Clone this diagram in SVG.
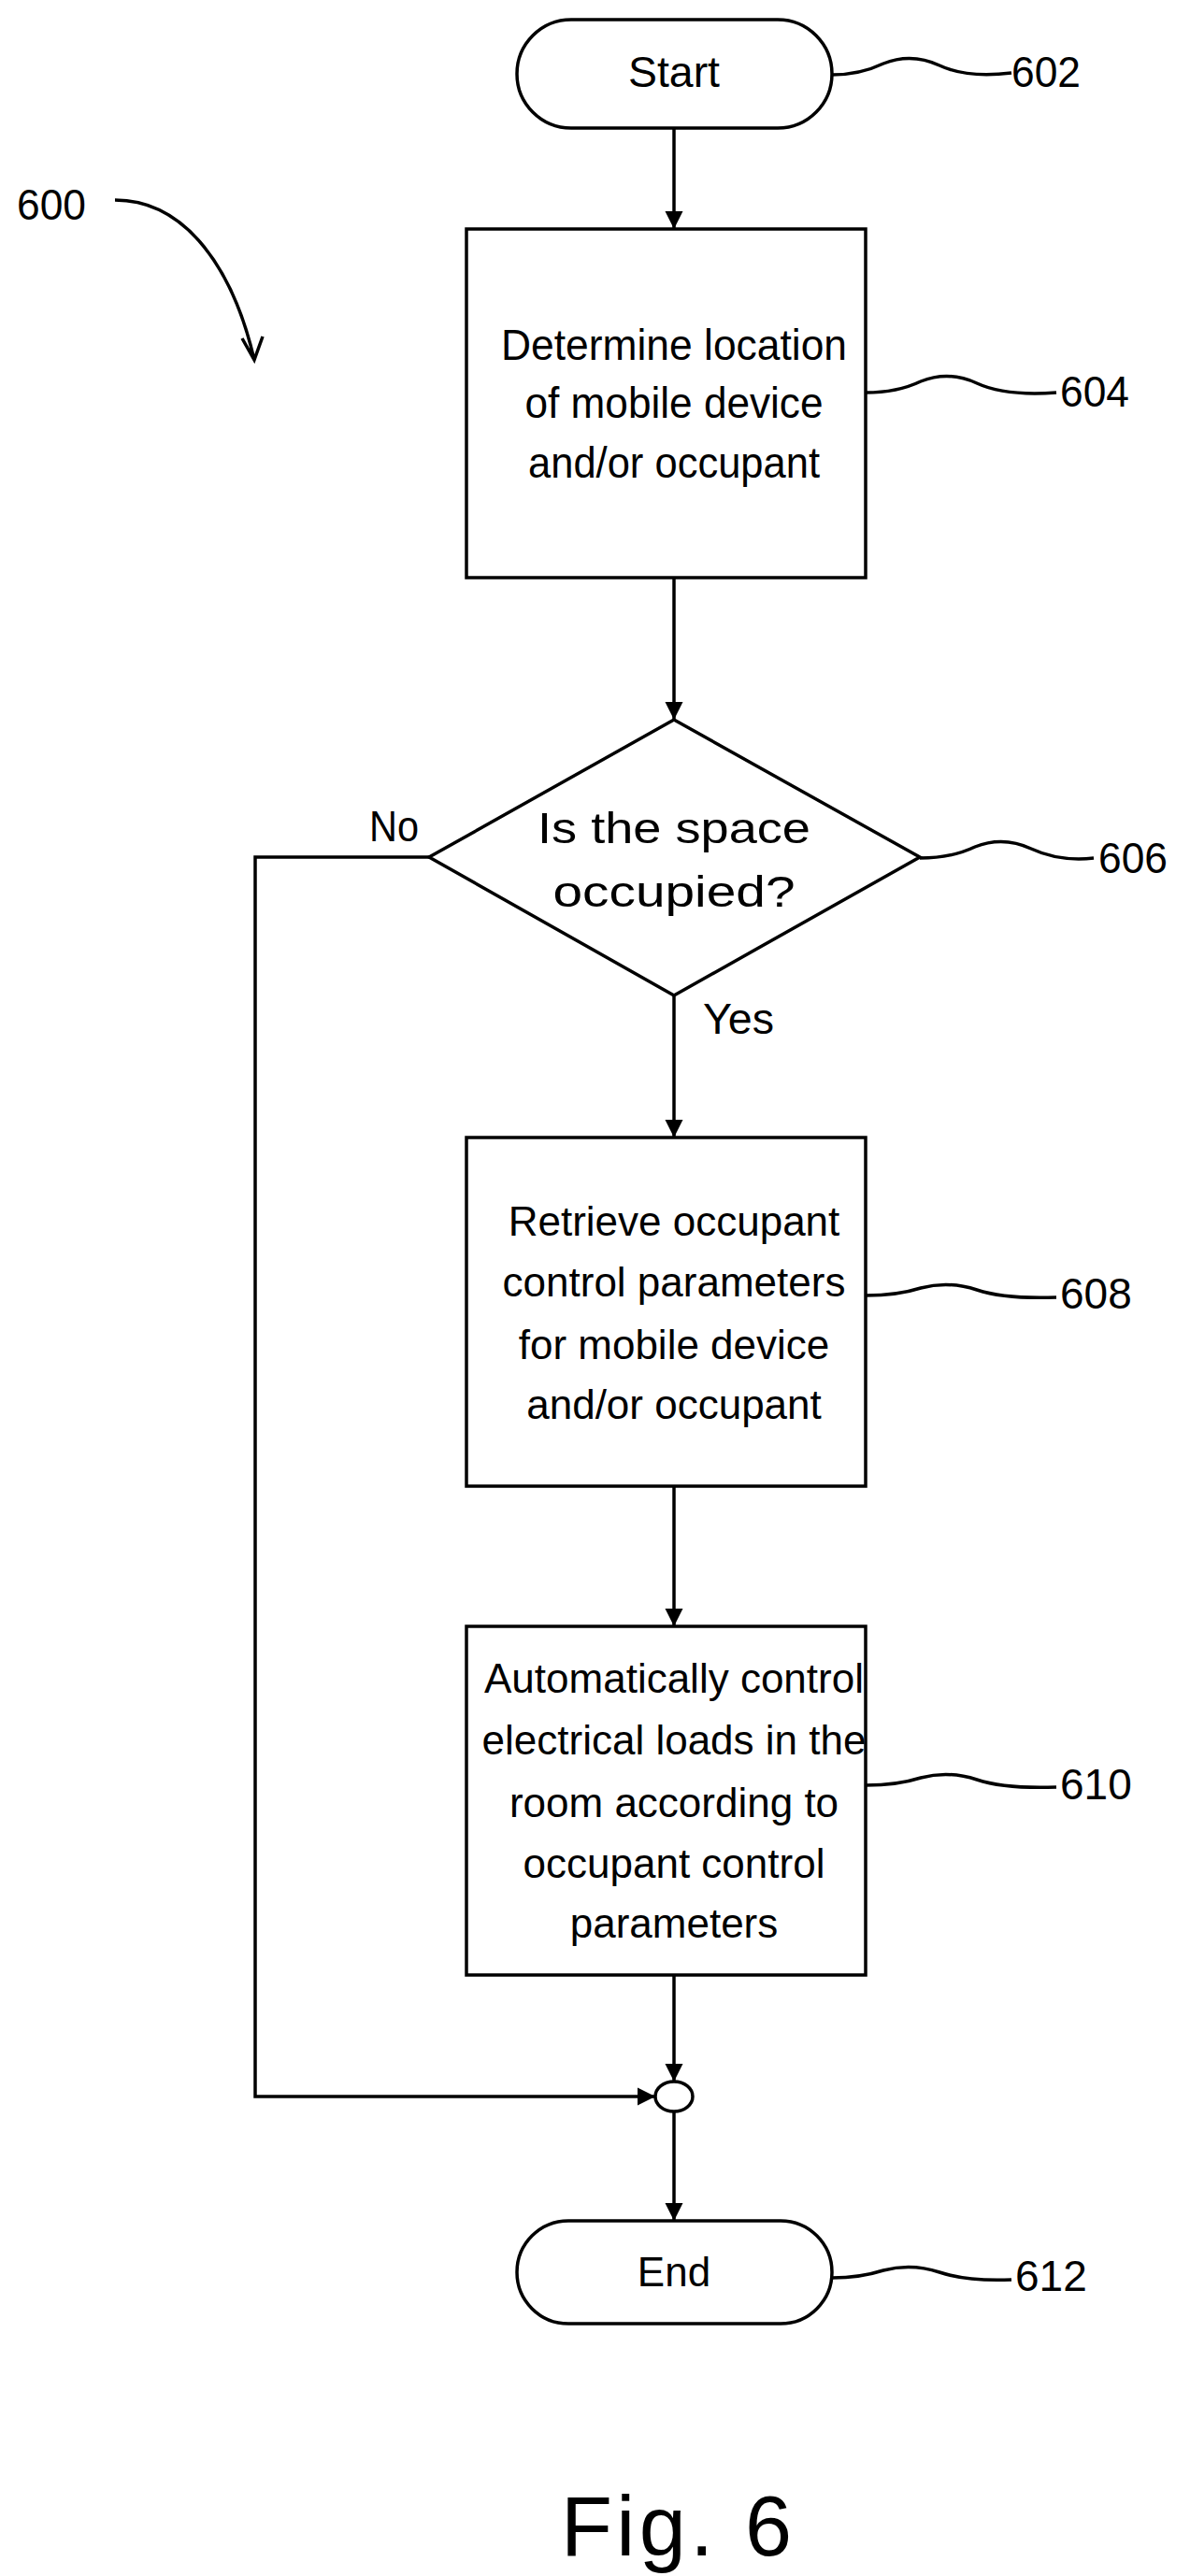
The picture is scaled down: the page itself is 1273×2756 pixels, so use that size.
<svg xmlns="http://www.w3.org/2000/svg" width="1273" height="2756" viewBox="0 0 1273 2756">
<style>
.s{fill:none;stroke:#000;stroke-width:3.5}
.n{fill:#fff;stroke:#000;stroke-width:3.5}
.c{font-family:"Liberation Sans",Arial,sans-serif;font-size:46px;text-anchor:middle}
.w{font-family:"Liberation Sans",Arial,sans-serif;font-size:44px;text-anchor:middle}
.r{font-family:"Liberation Sans",Arial,sans-serif;font-size:46px}
</style>
<defs>
<marker id="a" viewBox="0 0 10 10" refX="10" refY="5" markerWidth="5.5" markerHeight="5.5" orient="auto"><path d="M0,0L10,5L0,10z"/></marker>
</defs>
<g id="n602"><rect class="n" x="553" y="21" width="337" height="116" rx="58"/><text class="c" x="721" y="93" textLength="98" lengthAdjust="spacingAndGlyphs">Start</text></g>
<g id="n604"><rect class="n" x="499" y="245" width="427" height="373"/>
<text class="c" x="721" y="385" textLength="370" lengthAdjust="spacingAndGlyphs">Determine location</text>
<text class="c" x="721" y="447" textLength="319" lengthAdjust="spacingAndGlyphs">of mobile device</text>
<text class="c" x="721" y="511" textLength="312" lengthAdjust="spacingAndGlyphs">and/or occupant</text></g>
<g id="n606"><path class="n" d="M721,770L984,917L721,1065L459,917z"/>
<text class="c" x="721" y="902" textLength="292" lengthAdjust="spacingAndGlyphs">Is the space</text>
<text class="c" x="721" y="970" textLength="259" lengthAdjust="spacingAndGlyphs">occupied?</text></g>
<g id="n608"><rect class="n" x="499" y="1217" width="427" height="373"/>
<text class="w" x="721" y="1322">Retrieve occupant</text>
<text class="w" x="721" y="1387">control parameters</text>
<text class="w" x="721" y="1454">for mobile device</text>
<text class="w" x="721" y="1518">and/or occupant</text></g>
<g id="n610"><rect class="n" x="499" y="1740" width="427" height="373"/>
<text class="w" x="721" y="1811">Automatically control</text>
<text class="w" x="721" y="1877">electrical loads in the</text>
<text class="w" x="721" y="1944">room according to</text>
<text class="w" x="721" y="2009">occupant control</text>
<text class="w" x="721" y="2073">parameters</text></g>
<g id="j"><ellipse class="n" cx="721" cy="2243" rx="20" ry="16"/></g>
<g id="n612"><rect class="n" x="553" y="2376" width="337" height="110" rx="55"/><text class="w" x="721" y="2446">End</text></g>
<g id="connectors">
<path class="s" d="M721,137V245" marker-end="url(#a)"/>
<path class="s" d="M721,618V770" marker-end="url(#a)"/>
<path class="s" d="M721,1065V1217" marker-end="url(#a)"/>
<path class="s" d="M721,1590V1740" marker-end="url(#a)"/>
<path class="s" d="M721,2113V2227" marker-end="url(#a)"/>
<path class="s" d="M459,917H273V2243H701" marker-end="url(#a)"/>
<path class="s" d="M721,2259V2376" marker-end="url(#a)"/>
<path class="s" d="M123,214C200,214 250,290 272,385M259,362L272,385L281,360"/>
<path class="s" d="M890,80Q920,80 945,68Q975,56 1005,70Q1035,84 1082,78"/>
<path class="s" d="M926,420Q960,420 985,408Q1015,396 1045,410Q1075,424 1130,420"/>
<path class="s" d="M984,918Q1018,918 1043,906Q1073,894 1103,908Q1133,922 1170,918"/>
<path class="s" d="M926,1386Q960,1386 985,1378Q1015,1370 1045,1380Q1075,1390 1130,1388"/>
<path class="s" d="M926,1910Q960,1910 985,1902Q1015,1894 1045,1904Q1075,1914 1130,1912"/>
<path class="s" d="M890,2437Q920,2437 945,2429Q975,2421 1005,2431Q1035,2441 1082,2439"/>
</g>
<text class="r" x="1082" y="93" textLength="74" lengthAdjust="spacingAndGlyphs">602</text>
<text class="r" x="1134" y="435" textLength="74" lengthAdjust="spacingAndGlyphs">604</text>
<text class="r" x="1175" y="934" textLength="74" lengthAdjust="spacingAndGlyphs">606</text>
<text class="r" x="1134" y="1400">608</text>
<text class="r" x="1134" y="1925">610</text>
<text class="r" x="1086" y="2451">612</text>
<text class="r" x="18" y="235" textLength="74" lengthAdjust="spacingAndGlyphs">600</text>
<text class="r" x="395" y="900" textLength="53" lengthAdjust="spacingAndGlyphs">No</text>
<text class="r" x="752" y="1106" textLength="76" lengthAdjust="spacingAndGlyphs">Yes</text>
<text class="r" x="600" y="2734" style="font-size:90px" textLength="247" lengthAdjust="spacing">Fig. 6</text>
</svg>
